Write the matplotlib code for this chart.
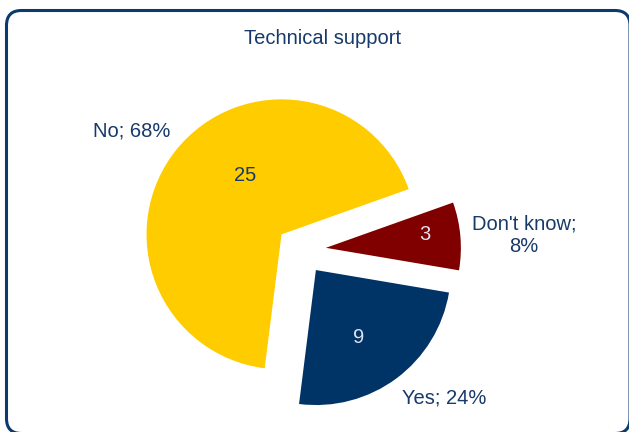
import matplotlib
matplotlib.use("Agg")
import matplotlib.pyplot as plt
from matplotlib.patches import FancyBboxPatch
import numpy as np

# Survey answers: count per category
categories = ["Yes", "No", "Don't know"]
values = [9, 25, 3]
colors = ["#003366", "#FFCC00", "#800000"]
count_colors = ["#dfe3ec", "#173a6a", "#dfe3ec"]
title = "Technical support"

plt.rcParams["font.family"] = ["Liberation Sans", "DejaVu Sans"]
TEXT = "#173a6a"
FS = 14.5

W, H = 629, 432
fig = plt.figure(figsize=(W / 100, H / 100), dpi=100)
ax = fig.add_axes([0, 0, 1, 1])

cx, cy, R = 301, H - 250, 135
offset = 0.185 * R          # explode distance, in data units
start = -9.6

wedges, _ = ax.pie(values, colors=colors, startangle=start, counterclock=False,
                   explode=[offset] * len(values), center=(cx, cy),
                   radius=R, frame=True, wedgeprops=dict(linewidth=0))

ax.set_xlim(0, W)
ax.set_ylim(0, H)
ax.set_aspect("equal")
ax.axis("off")

total = sum(values)
pcts = [round(v / total * 100) for v in values]
outer_texts = [f"{c}; {p}%" for c, p in zip(categories, pcts)]
outer_texts[2] = f"{categories[2]};\n{pcts[2]}%"

# label placement: (angle in degrees, distance in radii) from pie centre / slice centre
outer_place = [(-46.0, 1.525), (144.9, 1.535), (3.8, 1.655)]
inner_place = [(-57.4, 0.59), (121.6, 0.516), (7.4, 0.74)]

for i, w in enumerate(wedges):
    sx, sy = w.center
    a, d = inner_place[i]
    ax.text(sx + d * R * np.cos(np.deg2rad(a)), sy + d * R * np.sin(np.deg2rad(a)),
            str(values[i]), ha="center", va="center", fontsize=FS, color=count_colors[i])
    a, d = outer_place[i]
    ax.text(cx + d * R * np.cos(np.deg2rad(a)), cy + d * R * np.sin(np.deg2rad(a)),
            outer_texts[i], ha="center", va="center", fontsize=FS, color=TEXT,
            linespacing=1.25)

ax.text(323, H - 38, title, ha="center", va="center", fontsize=FS, color=TEXT)

# rounded chart border
left, top, right, bottom = 6.5, 10.5, 630.0, 433.5
border = FancyBboxPatch((left, H - bottom), right - left, bottom - top,
                        boxstyle="round,pad=0,rounding_size=15",
                        facecolor="none", edgecolor="#0b3a6e", linewidth=2.2,
                        clip_on=False)
ax.add_patch(border)

fig.savefig("out.png", dpi=100)
